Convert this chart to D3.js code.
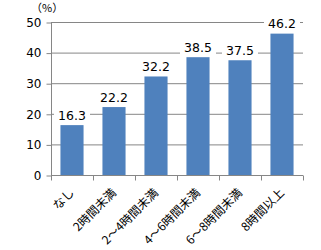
<!DOCTYPE html>
<html>
<head>
<meta charset="utf-8">
<script src="https://cdn.jsdelivr.net/npm/d3@7"></script>
<style>
  body { margin: 0; background: #fff; }
  text { font-family: "Noto Sans CJK JP", "DejaVu Sans", sans-serif; }
</style>
</head>
<body>
<svg id="chart"></svg>
<script>
// categories and values
const categories = ["なし", "2時間未満", "2～4時間未満", "4～6時間未満", "6～8時間未満", "8時間以上"];
const values = [16.3, 22.2, 32.2, 38.5, 37.5, 46.2];
const yTicks = [0, 10, 20, 30, 40, 50];

const width = 321, height = 250;
const margin = { top: 22, right: 18, bottom: 75, left: 51 };
const w = width - margin.left - margin.right;
const h = height - margin.top - margin.bottom;

const svg = d3.select('#chart')
  .attr('width', width)
  .attr('height', height);

const g = svg.append('g')
  .attr('transform', `translate(${margin.left},${margin.top})`);

const x = d3.scaleBand()
  .domain(categories)
  .range([0, w])
  .paddingInner(0.45)
  .paddingOuter(0.225);

const y = d3.scaleLinear()
  .domain([0, 50])
  .range([h, 0]);

// gridlines
g.append('g')
  .selectAll('line')
  .data(yTicks.slice(1))
  .enter()
  .append('line')
  .attr('x1', 0)
  .attr('x2', w)
  .attr('y1', d => y(d) + 0.5)
  .attr('y2', d => y(d) + 0.5)
  .attr('stroke', '#868686')
  .attr('stroke-width', 1);

// y axis
const yAxis = g.append('g')
  .attr('transform', 'translate(0.5,0)')
  .call(d3.axisLeft(y).tickValues(yTicks).tickSize(5).tickPadding(5));
yAxis.select('.domain').attr('stroke', '#868686').attr('d', `M0,${h}V0`);
yAxis.selectAll('.tick line').attr('stroke', '#868686').attr('transform', 'translate(0,0.5)');
yAxis.selectAll('.tick text')
  .attr('fill', '#000')
  .style('font-size', '12px')
  .style('font-family', '"DejaVu Sans", sans-serif')
  .attr('dy', '0.36em');

// bars
g.selectAll('rect.bar')
  .data(values)
  .enter()
  .append('rect')
  .attr('class', 'bar')
  .attr('x', (d, i) => x(categories[i]))
  .attr('y', d => y(d))
  .attr('width', x.bandwidth())
  .attr('height', d => h - y(d))
  .attr('fill', '#4f81bd');

// x axis
const step = x.step();
const xAxis = g.append('g')
  .attr('transform', `translate(0,${h + 0.5})`);
xAxis.append('line')
  .attr('x1', 0).attr('x2', w)
  .attr('stroke', '#868686');
xAxis.selectAll('line.tk')
  .data(d3.range(categories.length + 1))
  .enter()
  .append('line')
  .attr('class', 'tk')
  .attr('x1', d => Math.round(d * step) + 0.5)
  .attr('x2', d => Math.round(d * step) + 0.5)
  .attr('y1', 0).attr('y2', 5)
  .attr('stroke', '#868686');

xAxis.selectAll('text')
  .data(categories)
  .enter()
  .append('text')
  .attr('transform', d => `translate(${x(d) + x.bandwidth() / 2 - 3},12) rotate(-45)`)
  .attr('text-anchor', 'end')
  .attr('dy', '0.7em')
  .style('font-size', '12px')
  .attr('fill', '#000')
  .text(d => d);

// value labels with white boxes over the gridlines
const labels = g.selectAll('g.lbl')
  .data(values)
  .enter()
  .append('g')
  .attr('class', 'lbl')
  .attr('transform', (d, i) => `translate(${x(categories[i]) + x.bandwidth() / 2},${y(d) - 10})`);
labels.append('rect')
  .attr('x', -18).attr('y', -8)
  .attr('width', 36).attr('height', 16)
  .attr('fill', '#fff');
labels.append('text')
  .attr('text-anchor', 'middle')
  .attr('dy', '0.36em')
  .style('font-size', '12.5px')
  .style('font-family', '"DejaVu Sans", sans-serif')
  .attr('fill', '#000')
  .text(d => d.toFixed(1));

// unit
svg.append('text')
  .attr('x', 31)
  .attr('y', 12)
  .style('font-size', '11px')
  .attr('fill', '#000')
  .text('（%）');
</script>
</body>
</html>
